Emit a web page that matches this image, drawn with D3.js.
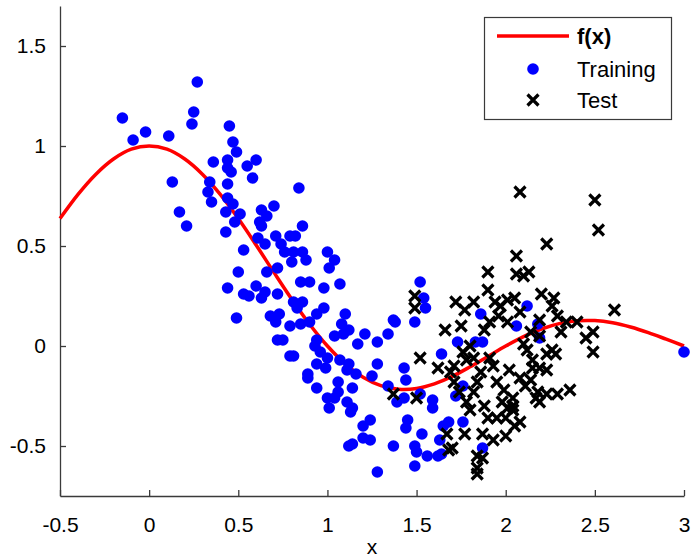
<!DOCTYPE html>
<html>
<head>
<meta charset="utf-8">
<script src="https://cdn.jsdelivr.net/npm/d3@7/dist/d3.min.js"></script>
<style>
  body { margin: 0; background: #fff; }
  svg { display: block; font-family: "Liberation Sans", Arial, sans-serif; }
</style>
</head>
<body>
<svg id="chart" width="691" height="559"></svg>
<script>
// f(x) curve
const curveX = [-0.5,-0.4,-0.3,-0.2,-0.1,0,0.1,0.2,0.3,0.4,0.5,0.6,0.7,0.8,0.9,1.0,1.1,1.2,1.3,1.4,1.5,1.6,1.7,1.8,1.9,2.0,2.1,2.2,2.3,2.4,2.5,2.6,2.7,2.8,2.9,3.0];
const curveY = [0.637,0.757,0.858,0.935,0.984,1,0.984,0.935,0.858,0.757,0.637,0.505,0.368,0.234,0.109,0,-0.089,-0.156,-0.198,-0.216,-0.212,-0.189,-0.152,-0.104,-0.052,0,0.047,0.085,0.112,0.126,0.127,0.116,0.095,0.067,0.034,0];

// training samples (blue dots)
const trainPoints = [[0.27,1.32],[-0.15,1.14],[0.25,1.17],[0.24,1.11],[0.45,1.10],[-0.02,1.07],[-0.09,1.03],[0.11,1.05],[0.47,1.02],[0.49,0.97],[0.36,0.92],[0.44,0.93],[0.44,0.89],[0.46,0.87],[0.60,0.93],[0.55,0.90],[0.58,0.84],[0.13,0.82],[0.44,0.81],[0.34,0.82],[0.33,0.77],[0.35,0.72],[0.44,0.74],[0.47,0.71],[0.43,0.67],[0.51,0.66],[0.48,0.62],[0.43,0.57],[0.17,0.67],[0.21,0.60],[0.63,0.68],[0.70,0.70],[0.66,0.65],[0.62,0.62],[0.63,0.60],[0.61,0.54],[0.71,0.55],[0.79,0.55],[0.53,0.48],[0.65,0.51],[0.74,0.51],[0.76,0.47],[0.50,0.37],[0.66,0.37],[0.72,0.39],[0.44,0.29],[0.53,0.26],[0.56,0.25],[0.60,0.30],[0.65,0.27],[0.63,0.24],[0.72,0.26],[0.49,0.14],[0.68,0.15],[0.73,0.16],[0.71,0.12],[0.72,0.03],[0.79,0.10],[0.79,-0.05],[0.84,0.79],[0.86,0.60],[0.82,0.55],[0.81,0.47],[0.86,0.47],[0.80,0.42],[0.88,0.43],[1.00,0.47],[1.04,0.43],[1.01,0.39],[0.85,0.32],[0.90,0.32],[0.98,0.29],[1.07,0.31],[0.81,0.22],[0.86,0.22],[0.83,0.19],[0.98,0.19],[0.94,0.16],[1.10,0.16],[0.90,0.12],[0.85,0.11],[1.08,0.11],[1.37,0.13],[1.52,0.32],[1.54,0.24],[1.55,0.19],[1.49,0.12],[0.75,0.03],[0.81,-0.05],[0.94,0.03],[0.93,0.00],[0.96,-0.03],[1.00,-0.06],[0.94,-0.09],[0.89,-0.14],[0.99,-0.11],[1.12,0.08],[1.09,0.06],[1.04,0.05],[1.21,0.06],[1.17,0.01],[1.28,0.02],[1.34,0.06],[1.38,0.12],[1.07,-0.07],[1.12,-0.09],[1.16,-0.14],[1.11,-0.12],[1.28,-0.09],[1.25,-0.15],[1.43,-0.11],[1.44,-0.17],[0.89,-0.16],[0.94,-0.21],[1.06,-0.18],[1.14,-0.21],[1.06,-0.23],[1.00,-0.26],[1.04,-0.26],[1.01,-0.31],[1.11,-0.28],[1.14,-0.31],[1.13,-0.33],[1.34,-0.20],[1.39,-0.28],[1.43,-0.26],[1.52,-0.24],[1.59,-0.27],[1.59,-0.31],[1.24,-0.37],[1.20,-0.40],[1.45,-0.37],[1.44,-0.41],[1.53,-0.44],[1.65,-0.40],[1.63,-0.47],[1.20,-0.46],[1.24,-0.47],[1.14,-0.49],[1.12,-0.50],[1.37,-0.50],[1.49,-0.50],[1.50,-0.53],[1.56,-0.55],[1.62,-0.55],[1.49,-0.60],[1.28,-0.63],[1.64,-0.04],[2.12,0.20],[1.86,0.16],[2.06,0.10],[2.18,0.11],[1.73,0.02],[1.83,0.02],[1.87,0.02],[1.76,-0.20],[1.72,-0.25],[1.68,-0.38],[1.76,-0.38],[1.64,-0.54],[1.87,-0.51],[2.19,0.04],[3.00,-0.03]];

// test samples (black crosses)
const testPoints = [[1.49,0.25],[1.49,0.19],[1.66,0.08],[1.52,-0.06],[1.62,-0.11],[1.37,-0.24],[1.50,-0.26],[1.67,-0.44],[1.68,-0.52],[2.08,0.77],[2.50,0.73],[2.52,0.58],[2.23,0.51],[2.06,0.45],[1.90,0.37],[2.06,0.36],[2.13,0.37],[2.10,0.35],[1.90,0.28],[2.20,0.26],[2.27,0.24],[1.72,0.22],[1.82,0.22],[1.77,0.18],[1.94,0.22],[1.97,0.20],[2.05,0.24],[2.08,0.17],[2.26,0.20],[2.29,0.15],[2.19,0.13],[2.34,0.12],[2.40,0.12],[1.96,0.15],[2.01,0.12],[1.91,0.12],[2.14,0.07],[2.19,0.05],[2.31,0.07],[2.49,0.07],[2.49,-0.03],[2.61,0.18],[2.26,-0.02],[2.23,-0.04],[1.76,-0.03],[1.82,-0.06],[1.91,-0.06],[1.86,-0.13],[1.78,-0.07],[1.71,-0.10],[1.69,-0.13],[1.71,-0.18],[2.15,-0.11],[2.19,-0.11],[2.23,-0.12],[2.08,-0.16],[2.14,-0.17],[1.95,-0.18],[1.99,-0.22],[1.74,-0.23],[1.82,-0.23],[2.18,-0.23],[2.23,-0.24],[2.29,-0.24],[2.36,-0.22],[2.19,-0.28],[2.04,-0.26],[2.01,-0.31],[2.04,-0.32],[1.78,-0.28],[1.80,-0.32],[1.90,-0.36],[1.95,-0.36],[2.00,-0.36],[2.08,-0.38],[1.87,-0.44],[2.00,-0.45],[1.77,-0.44],[1.70,-0.51],[1.84,-0.55],[1.87,-0.56],[1.84,-0.61],[1.84,-0.64],[2.10,0.01],[2.45,0.04],[2.11,-0.20],[2.17,-0.26],[2.04,-0.30],[2.01,0.23],[2.28,-0.04],[2.15,-0.07],[1.75,0.10],[1.80,0.00],[1.93,-0.10],[1.98,-0.28],[1.88,-0.30],[2.05,-0.40],[1.93,-0.47],[2.12,-0.02],[1.88,0.08],[1.84,-0.18],[2.02,-0.12]];

const xTicks = [-0.5, 0, 0.5, 1, 1.5, 2, 2.5, 3];
const yTicks = [-0.5, 0, 0.5, 1, 1.5];
const legendLabels = ["f(x)", "Training", "Test"];

const svg = d3.select("#chart");
const xScale = d3.scaleLinear().domain([-0.5, 3]).range([60, 684]);
const yScale = d3.scaleLinear().domain([-0.75, 1.7]).range([496, 6]);
const crossPath = "M-5.5,-5.5L5.5,5.5M-5.5,5.5L5.5,-5.5";

// axes (MATLAB style: inward ticks, no box)
const xAxis = svg.append("g")
    .attr("transform", `translate(0, ${yScale.range()[0]})`)
    .call(d3.axisBottom(xScale).tickValues(xTicks).tickSize(-6).tickSizeOuter(0).tickPadding(21).tickFormat(d => String(d)));
const yAxis = svg.append("g")
    .attr("transform", `translate(${xScale.range()[0]}, 0)`)
    .call(d3.axisLeft(yScale).tickValues(yTicks).tickSize(-6).tickSizeOuter(0).tickPadding(14).tickFormat(d => String(d)));
[xAxis, yAxis].forEach(a => {
    a.select(".domain").attr("stroke", "#3a3a3a").attr("stroke-width", 1.3);
    a.selectAll(".tick line").attr("stroke", "#3a3a3a").attr("stroke-width", 1.3);
    a.selectAll(".tick text").attr("fill", "#000").style("font-size", "21px").style("font-family", "'Liberation Sans', Arial, sans-serif");
});

svg.append("text")
    .attr("x", xScale(1.25))
    .attr("y", 554)
    .attr("text-anchor", "middle")
    .style("font-size", "21px")
    .text("x");

// f(x)
const valueLine = d3.line()
    .x((d, i) => xScale(curveX[i]))
    .y(d => yScale(d))
    .curve(d3.curveCatmullRom);
svg.append("path")
    .datum(curveY)
    .attr("fill", "none")
    .attr("stroke", "#ff0000")
    .attr("stroke-width", 3.5)
    .attr("d", valueLine);

// training
svg.append("g").selectAll("circle")
    .data(trainPoints)
    .join("circle")
    .attr("cx", d => xScale(d[0]))
    .attr("cy", d => yScale(d[1]))
    .attr("r", 5.8)
    .attr("fill", "#0000ff");

// test
svg.append("g").selectAll("path")
    .data(testPoints)
    .join("path")
    .attr("transform", d => `translate(${xScale(d[0])}, ${yScale(d[1])})`)
    .attr("d", crossPath)
    .attr("fill", "none")
    .attr("stroke", "#000")
    .attr("stroke-width", 3.2);

// legend
const lg = svg.append("g");
lg.append("rect")
    .attr("x", 484.5).attr("y", 17.5)
    .attr("width", 187).attr("height", 102)
    .attr("fill", "#fff")
    .attr("stroke", "#3a3a3a")
    .attr("stroke-width", 1.2);
const rowY = [36, 69, 100];
lg.append("line")
    .attr("x1", 497).attr("x2", 569)
    .attr("y1", rowY[0]).attr("y2", rowY[0])
    .attr("stroke", "#ff0000").attr("stroke-width", 3.5);
lg.append("circle")
    .attr("cx", 533).attr("cy", rowY[1]).attr("r", 5.8)
    .attr("fill", "#0000ff");
lg.append("path")
    .attr("transform", `translate(533, ${rowY[2]})`)
    .attr("d", crossPath)
    .attr("fill", "none").attr("stroke", "#000").attr("stroke-width", 3.2);
lg.selectAll("text.lbl")
    .data(legendLabels)
    .join("text")
    .attr("class", "lbl")
    .attr("x", 577)
    .attr("y", (d, i) => rowY[i] + 8)
    .style("font-size", "22px")
    .style("font-weight", (d, i) => i === 0 ? "bold" : "normal")
    .text(d => d);
</script>
</body>
</html>
